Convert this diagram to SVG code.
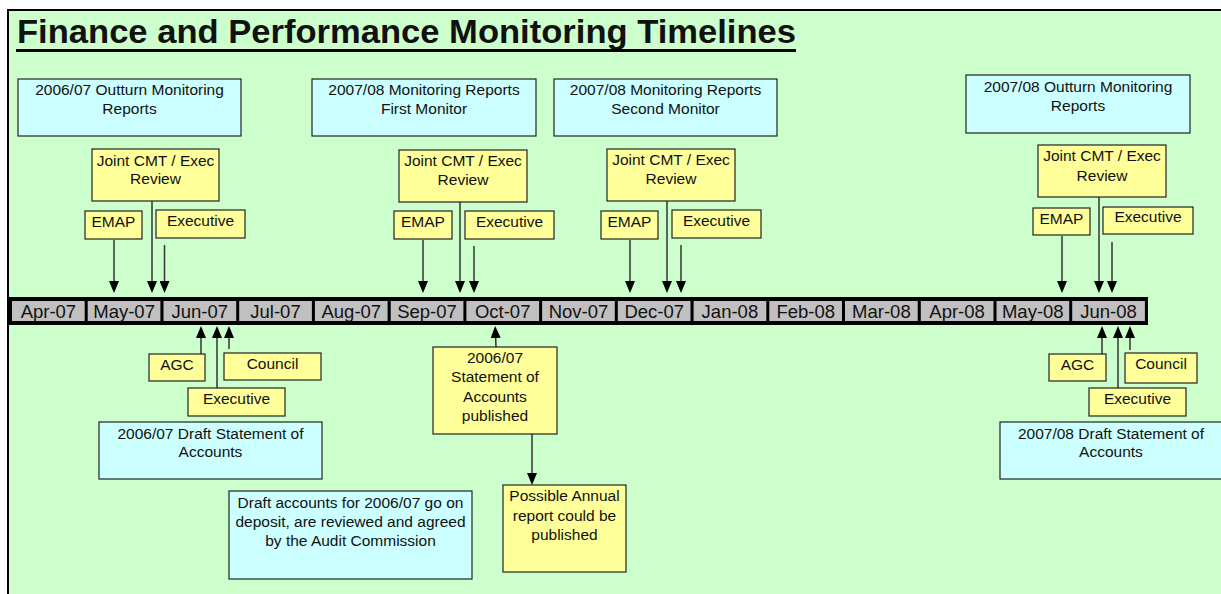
<svg xmlns="http://www.w3.org/2000/svg" width="1221" height="594" viewBox="0 0 1221 594">
<style>
text{font-family:"Liberation Sans",Arial,Helvetica,sans-serif;fill:#111;}
.t{font-size:15.5px;text-anchor:middle;}
.m{font-size:18.5px;text-anchor:middle;}
.blue{fill:#CCFFFF;stroke:#222;stroke-width:1.2;}
.yel{fill:#FFFF99;stroke:#222;stroke-width:1.2;}
.cell{fill:#C0C0C0;}
.con{stroke:#333;stroke-width:1.5;fill:none;marker-end:url(#ah);}
</style>
<defs>
<marker id="ah" markerUnits="userSpaceOnUse" markerWidth="12" markerHeight="10" refX="4" refY="5" orient="auto">
<path d="M0,0 L12,5 L0,10 z" fill="#000"/>
</marker>
</defs>
<rect x="0" y="0" width="1221" height="594" fill="#fff"/>
<rect x="8" y="10" width="1220" height="600" fill="#CCFFCC" stroke="#000" stroke-width="2"/>
<g id="title">
<text x="17" y="43" font-size="34" font-weight="bold" textLength="779" lengthAdjust="spacingAndGlyphs">Finance and Performance Monitoring Timelines</text>
<rect x="16" y="49" width="780" height="3" fill="#000"/>
</g>
<g id="timeline">
<rect x="9" y="297" width="1139" height="28" fill="#000"/>
<rect class="cell" x="12" y="301" width="72.7" height="20"/>
<rect class="cell" x="87.7" y="301" width="72.7" height="20"/>
<rect class="cell" x="163.5" y="301" width="72.7" height="20"/>
<rect class="cell" x="239.2" y="301" width="72.7" height="20"/>
<rect class="cell" x="314.9" y="301" width="72.7" height="20"/>
<rect class="cell" x="390.7" y="301" width="72.7" height="20"/>
<rect class="cell" x="466.4" y="301" width="72.7" height="20"/>
<rect class="cell" x="542.1" y="301" width="72.7" height="20"/>
<rect class="cell" x="617.8" y="301" width="72.7" height="20"/>
<rect class="cell" x="693.6" y="301" width="72.7" height="20"/>
<rect class="cell" x="769.3" y="301" width="72.7" height="20"/>
<rect class="cell" x="845" y="301" width="72.7" height="20"/>
<rect class="cell" x="920.8" y="301" width="72.7" height="20"/>
<rect class="cell" x="996.5" y="301" width="72.7" height="20"/>
<rect class="cell" x="1072.2" y="301" width="72.7" height="20"/>
<text class="m" x="48.4" y="317.5">Apr-07</text>
<text class="m" x="124.1" y="317.5">May-07</text>
<text class="m" x="199.8" y="317.5">Jun-07</text>
<text class="m" x="275.5" y="317.5">Jul-07</text>
<text class="m" x="351.3" y="317.5">Aug-07</text>
<text class="m" x="427" y="317.5">Sep-07</text>
<text class="m" x="502.7" y="317.5">Oct-07</text>
<text class="m" x="578.5" y="317.5">Nov-07</text>
<text class="m" x="654.2" y="317.5">Dec-07</text>
<text class="m" x="729.9" y="317.5">Jan-08</text>
<text class="m" x="805.7" y="317.5">Feb-08</text>
<text class="m" x="881.4" y="317.5">Mar-08</text>
<text class="m" x="957.1" y="317.5">Apr-08</text>
<text class="m" x="1032.8" y="317.5">May-08</text>
<text class="m" x="1108.6" y="317.5">Jun-08</text>
</g>
<g id="connectors">
<line class="con" x1="114" y1="240" x2="114" y2="285"/>
<line class="con" x1="152" y1="201" x2="152" y2="285"/>
<line class="con" x1="164.5" y1="245" x2="164.5" y2="285"/>
<line class="con" x1="423" y1="240" x2="423" y2="285"/>
<line class="con" x1="460" y1="202" x2="460" y2="285"/>
<line class="con" x1="474" y1="246" x2="474" y2="285"/>
<line class="con" x1="630" y1="240" x2="630" y2="285"/>
<line class="con" x1="667" y1="201" x2="667" y2="285"/>
<line class="con" x1="681" y1="245" x2="681" y2="285"/>
<line class="con" x1="1062" y1="236" x2="1062" y2="285"/>
<line class="con" x1="1099" y1="197" x2="1099" y2="285"/>
<line class="con" x1="1112" y1="242" x2="1112" y2="285"/>
<line class="con" x1="201" y1="354" x2="201" y2="334"/>
<line class="con" x1="217" y1="388" x2="217" y2="334"/>
<line class="con" x1="229" y1="349" x2="229" y2="334"/>
<line class="con" x1="1102" y1="354" x2="1102" y2="334"/>
<line class="con" x1="1118" y1="388" x2="1118" y2="334"/>
<line class="con" x1="1130" y1="350" x2="1130" y2="334"/>
<line class="con" x1="496" y1="347" x2="495.5" y2="334"/>
<line class="con" x1="532" y1="434" x2="532" y2="477"/>
</g>
<g id="n-outturn0607"><rect class="blue" x="18" y="79" width="223" height="57"/><text class="t" x="129.5" y="95">2006/07 Outturn Monitoring</text><text class="t" x="129.5" y="113.5">Reports</text></g>
<g id="n-first"><rect class="blue" x="312" y="79" width="224" height="57"/><text class="t" x="424" y="95">2007/08 Monitoring Reports</text><text class="t" x="424" y="114">First Monitor</text></g>
<g id="n-second"><rect class="blue" x="554" y="79" width="223" height="57"/><text class="t" x="665.5" y="95">2007/08 Monitoring Reports</text><text class="t" x="665.5" y="114">Second Monitor</text></g>
<g id="n-outturn0708"><rect class="blue" x="966" y="75" width="224" height="58"/><text class="t" x="1078" y="91.5">2007/08 Outturn Monitoring</text><text class="t" x="1078" y="110.5">Reports</text></g>
<g id="n-draft0607"><rect class="blue" x="99" y="422" width="223" height="57"/><text class="t" x="210.5" y="438.5">2006/07 Draft Statement of</text><text class="t" x="210.5" y="457">Accounts</text></g>
<g id="n-deposit"><rect class="blue" x="229" y="491" width="243" height="88"/><text class="t" x="350.5" y="507.5">Draft accounts for 2006/07 go on</text><text class="t" x="350.5" y="526.5">deposit, are reviewed and agreed</text><text class="t" x="350.5" y="545.5">by the Audit Commission</text></g>
<g id="n-draft0708"><rect class="blue" x="1000" y="422" width="224" height="57"/><text class="t" x="1111" y="438.5">2007/08 Draft Statement of</text><text class="t" x="1111" y="457">Accounts</text></g>
<g id="n-jointA"><rect class="yel" x="92" y="149" width="127" height="52"/><text class="t" x="155.5" y="165.5">Joint CMT / Exec</text><text class="t" x="155.5" y="184">Review</text></g>
<g id="n-emapA"><rect class="yel" x="85" y="211" width="57" height="28"/><text class="t" x="113.5" y="227">EMAP</text></g>
<g id="n-execA"><rect class="yel" x="156" y="210" width="89" height="28"/><text class="t" x="200.5" y="226">Executive</text></g>
<g id="n-jointB"><rect class="yel" x="399" y="150" width="128" height="52"/><text class="t" x="463" y="166">Joint CMT / Exec</text><text class="t" x="463" y="184.5">Review</text></g>
<g id="n-emapB"><rect class="yel" x="394" y="211" width="58" height="28"/><text class="t" x="423" y="227">EMAP</text></g>
<g id="n-execB"><rect class="yel" x="465" y="211" width="89" height="28"/><text class="t" x="509.5" y="227">Executive</text></g>
<g id="n-jointC"><rect class="yel" x="607" y="149" width="128" height="52"/><text class="t" x="671" y="165">Joint CMT / Exec</text><text class="t" x="671" y="183.5">Review</text></g>
<g id="n-emapC"><rect class="yel" x="601" y="211" width="57" height="28"/><text class="t" x="629.5" y="227">EMAP</text></g>
<g id="n-execC"><rect class="yel" x="672" y="210" width="89" height="28"/><text class="t" x="716.5" y="225.5">Executive</text></g>
<g id="n-jointD"><rect class="yel" x="1038" y="145" width="128" height="52"/><text class="t" x="1102" y="161">Joint CMT / Exec</text><text class="t" x="1102" y="180.5">Review</text></g>
<g id="n-emapD"><rect class="yel" x="1033" y="208" width="57" height="27"/><text class="t" x="1061.5" y="224">EMAP</text></g>
<g id="n-execD"><rect class="yel" x="1103" y="207" width="90" height="27"/><text class="t" x="1148" y="222">Executive</text></g>
<g id="n-agcE"><rect class="yel" x="149" y="354" width="56" height="27"/><text class="t" x="177" y="370">AGC</text></g>
<g id="n-councilE"><rect class="yel" x="224" y="353" width="97" height="27"/><text class="t" x="272.5" y="369">Council</text></g>
<g id="n-execE"><rect class="yel" x="188" y="388" width="97" height="28"/><text class="t" x="236.5" y="404">Executive</text></g>
<g id="n-agcF"><rect class="yel" x="1049" y="354" width="57" height="27"/><text class="t" x="1077.5" y="370">AGC</text></g>
<g id="n-councilF"><rect class="yel" x="1125" y="353" width="72" height="30"/><text class="t" x="1161" y="368.5">Council</text></g>
<g id="n-execF"><rect class="yel" x="1089" y="388" width="97" height="28"/><text class="t" x="1137.5" y="404">Executive</text></g>
<g id="n-published"><rect class="yel" x="433" y="347" width="124" height="87"/><text class="t" x="495" y="362.5">2006/07</text><text class="t" x="495" y="382">Statement of</text><text class="t" x="495" y="401.5">Accounts</text><text class="t" x="495" y="420.5">published</text></g>
<g id="n-annual"><rect class="yel" x="503" y="485" width="123" height="87"/><text class="t" x="564.5" y="501">Possible Annual</text><text class="t" x="564.5" y="521">report could be</text><text class="t" x="564.5" y="540">published</text></g>
</svg>
